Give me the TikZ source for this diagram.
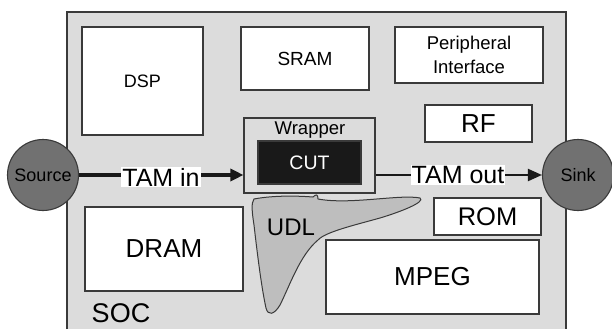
\documentclass[tikz,border=0pt]{standalone}
\usepackage{fontspec}
\setmainfont{Liberation Sans}
\usetikzlibrary{arrows.meta, positioning}
\definecolor{socgray}{HTML}{DCDCDC}
\definecolor{udlgray}{HTML}{BEBEBE}
\definecolor{portgray}{HTML}{717171}
\definecolor{edgegray}{HTML}{3A3A3A}

\begin{document}
\begin{tikzpicture}[x=1pt, y=-1pt,
  block/.style={draw=edgegray, fill=white, line width=1.1pt, inner sep=0pt, align=center},
  port/.style={circle, draw=edgegray, fill=portgray, line width=1.1pt, minimum size=71pt, inner sep=0pt, font=\fontsize{18}{20}\selectfont},
  tamlabel/.style={fill=white, inner sep=1pt, font=\fontsize{25}{28}\selectfont}]
  \useasboundingbox (0,0) rectangle (612,329);
  % SOC
  \fill[socgray] (67,12) rectangle (566,329);
  \draw[edgegray, line width=1.2pt] (67,329) -- (67,12) -- (566,12) -- (566,329);
  \node[font=\fontsize{27}{30}\selectfont] (soc) at (121,313) {SOC};
  % Cores
  \node[block, minimum width=121pt, minimum height=108pt, font=\fontsize{18}{20}\selectfont] (dsp) at (142.5,81) {DSP};
  \node[block, minimum width=128pt, minimum height=63pt, font=\fontsize{19}{21}\selectfont] (sram) at (305,58.5) {SRAM};
  \node[block, minimum width=148pt, minimum height=56pt, font=\fontsize{18.5}{24}\selectfont] (periph) at (469,55) {Peripheral\\Interface};
  \node[block, minimum width=107pt, minimum height=37pt, font=\fontsize{26}{28}\selectfont] (rf) at (478.5,123.5) {RF};
  \node[block, minimum width=107pt, minimum height=37pt, font=\fontsize{25.5}{28}\selectfont] (rom) at (487.5,216.5) {ROM};
  \node[block, minimum width=158pt, minimum height=84pt, font=\fontsize{26}{28}\selectfont] (dram) at (164,249) {DRAM};
  \node[block, minimum width=213pt, minimum height=74pt, font=\fontsize{26}{28}\selectfont] (mpeg) at (432.5,277) {MPEG};
  % UDL
  \draw[edgegray, fill=udlgray, line width=1pt]
    (254,199) .. controls (275,195) and (300,196) .. (313,197)
    .. controls (316,194) and (318,194) .. (318,199)
    .. controls (350,205) and (400,194) .. (420,198)
    .. controls (426,202) and (400,212) .. (380,218)
    .. controls (355,225) and (325,232) .. (318,240)
    .. controls (300,255) and (290,285) .. (280,305)
    .. controls (274,315) and (268,316) .. (266,308)
    .. controls (262,290) and (258,260) .. (254,225)
    .. controls (252,212) and (251,203) .. (254,199) -- cycle;
  \node[font=\fontsize{24}{26}\selectfont] (udl) at (291,227) {UDL};
  % Wrapper and CUT
  \node[block, fill=socgray, minimum width=131pt, minimum height=75pt] (wrapper) at (309.5,155.5) {};
  \node[font=\fontsize{18.5}{20}\selectfont, anchor=center] (wraptext) at (310,130) {Wrapper};
  \node[block, fill=black!90, text=white, minimum width=103pt, minimum height=43pt, font=\fontsize{19.5}{21}\selectfont] (cut) at (309.5,162.5) {CUT};
  % Source and sink
  \node[port] (source) at (43,175) {Source};
  \node[port] (sink) at (578,175) {Sink};
  % TAM
  \draw[black!90, line width=3.2pt, -{Triangle[length=13pt, width=12pt]}] (source.east) -- (source.east -| wrapper.west);
  \draw[black!90, line width=2pt, -{Triangle[length=14pt, width=12pt]}] (wrapper.east |- sink.west) -- (sink.west);
  \node[tamlabel] (tamin) at (161,177) {TAM in};
  \node[tamlabel] (tamout) at (458,175) {TAM out};
\end{tikzpicture}
\end{document}
